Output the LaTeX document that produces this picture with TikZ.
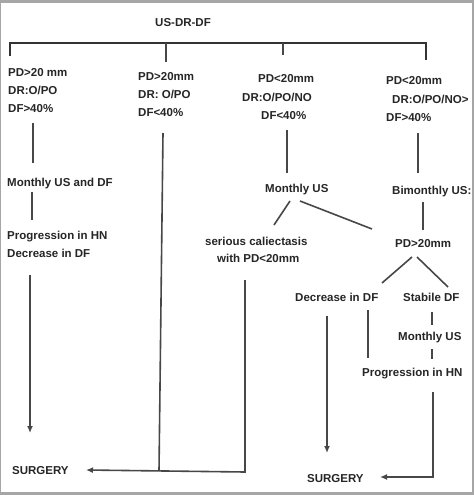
\documentclass[tikz,border=0pt]{standalone}
\usepackage{fontspec}
\setmainfont{Liberation Sans}
\usetikzlibrary{arrows.meta}
\begin{document}
\begin{tikzpicture}[x=1pt,y=-1pt,
  txt/.style={inner sep=0pt, anchor=west, text height=8.3pt, text depth=0pt,
    font=\fontsize{11.5}{13}\selectfont\bfseries, text=black!85},
  ln/.style={draw=black!72, line width=1.6pt},
  topln/.style={draw=black!80, line width=2.4pt},
  arr/.style={ln, -{Latex[length=7pt,width=6pt]}}]
\useasboundingbox (0,0) rectangle (474,495);
\fill[black!35] (0,0) rectangle (474,495);
\fill[white] (1,3) rectangle (472,492);
% title and top bar
\node[txt, anchor=center] (title) at (183,22) {US-DR-DF};
\coordinate (tl) at (10,43);
\coordinate (tr) at (426,43);
\draw[topln] (10,56) -- (tl) -- (tr) -- (426,60);
\draw[ln] (166,43) -- (166,62);
\draw[ln] (283,43) -- (283,55);
% branch 1
\node[txt] (b1a) at (8,72) {PD>20 mm};
\node[txt] (b1b) at (8,90) {DR:O/PO};
\node[txt] (b1c) at (8,108) {DF>40\%};
\node[txt] (m1) at (7,182) {Monthly US and DF};
\node[txt] (p1a) at (7,235) {Progression in HN};
\node[txt] (p1b) at (7,253) {Decrease in DF};
\node[txt] (s1) at (12,470) {SURGERY};
\coordinate (c1a) at (33,123); \coordinate (c1b) at (33,163);
\coordinate (c1c) at (32,192); \coordinate (c1d) at (32,220);
\coordinate (c1e) at (30,275); \coordinate (c1f) at (30,433);
\draw[ln] (c1a) -- (c1b);
\draw[ln] (c1c) -- (c1d);
\draw[arr] (c1e) -- (c1f);
% branch 2
\node[txt] (b2a) at (138,76) {PD>20mm};
\node[txt] (b2b) at (138,94) {DR: O/PO};
\node[txt] (b2c) at (138,112) {DF<40\%};
\coordinate (c2a) at (163,133); \coordinate (c2b) at (159,471);
\draw[ln] (c2a) -- (c2b);
% branch 3
\node[txt] (b3a) at (258,78) {PD<20mm};
\node[txt] (b3b) at (242,97) {DR:O/PO/NO};
\node[txt] (b3c) at (261,115) {DF<40\%};
\node[txt] (m3) at (265,188) {Monthly US};
\node[txt] (sc1) at (205,241) {serious caliectasis};
\node[txt] (sc2) at (217,258) {with PD<20mm};
\coordinate (c3a) at (287,130); \coordinate (c3b) at (287,173);
\draw[ln] (c3a) -- (c3b);
\draw[ln] (290,201) -- (274,225);
\draw[ln] (300,201) -- (372,229);
\coordinate (c3c) at (245,280); \coordinate (c3d) at (245,472);
\coordinate (c3e) at (86,470);
\draw[arr] (c3c) -- (c3d) -- (c3e);
% branch 4
\node[txt] (b4a) at (386,80) {PD<20mm};
\node[txt] (b4b) at (392,99) {DR:O/PO/NO>};
\node[txt] (b4c) at (386,117) {DF>40\%};
\node[txt] (bm) at (392,190) {Bimonthly US:};
\node[txt] (pd) at (395,243) {PD>20mm};
\node[txt] (dd) at (295,297) {Decrease in DF};
\node[txt] (st) at (403,297) {Stabile DF};
\node[txt] (m4) at (398,336) {Monthly US};
\node[txt] (p4) at (362,372) {Progression in HN};
\node[txt] (s2) at (307,478) {SURGERY};
\draw[ln] (418,133) -- (418,173);
\draw[ln] (423,202) -- (423,230);
\draw[ln] (412,257) -- (382,283);
\draw[ln] (417,257) -- (448,287);
\draw[ln] (368,310) -- (368,358);
\draw[ln] (432,312) -- (432,325);
\draw[ln] (432,349) -- (432,359);
\draw[arr] (327,316) -- (327,453);
\coordinate (c4a) at (433,392); \coordinate (c4b) at (433,477);
\coordinate (c4c) at (380,477);
\draw[arr] (c4a) -- (c4b) -- (c4c);
\end{tikzpicture}
\end{document}
